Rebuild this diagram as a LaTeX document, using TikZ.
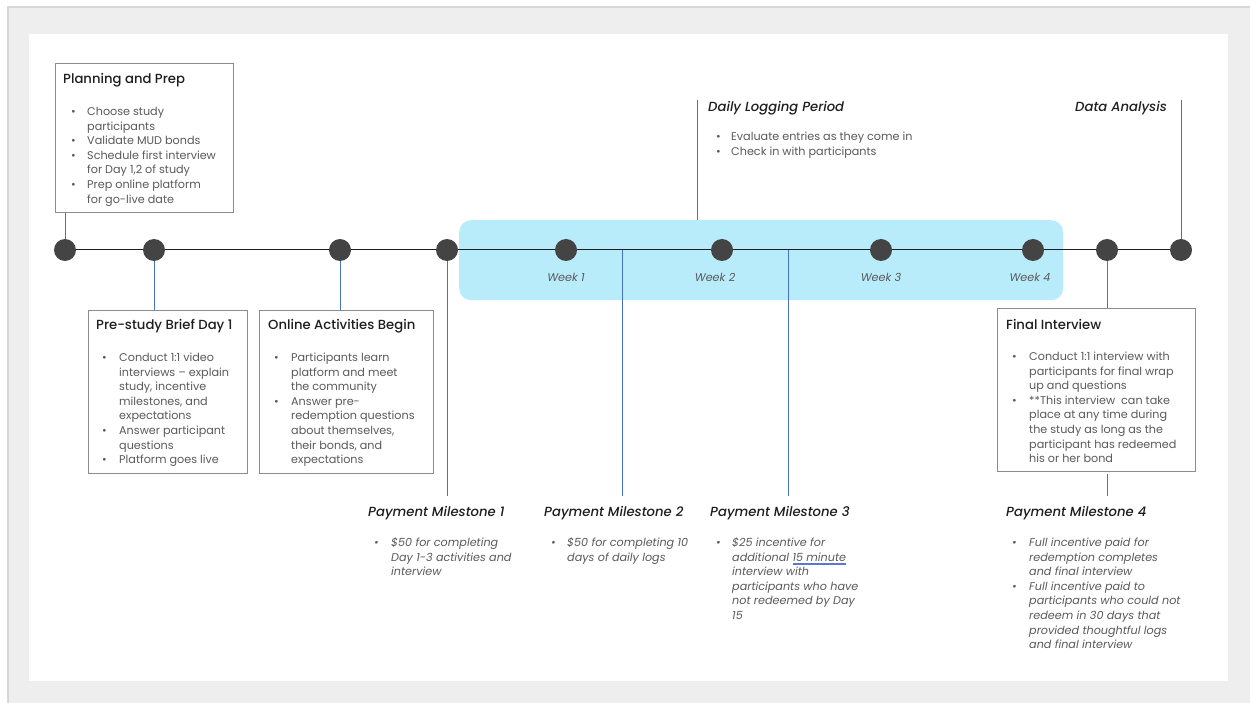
\documentclass[tikz,border=0pt]{standalone}
\usepackage{fontspec}
\setmainfont{Poppins}
\newfontfamily\headfont{Poppins Medium}
\usetikzlibrary{positioning}

\definecolor{pagegray}{RGB}{238, 238, 238}
\definecolor{edgegray}{RGB}{215, 215, 215}
\definecolor{cardgray}{RGB}{140, 140, 140}
\definecolor{ink}{RGB}{30, 30, 30}
\definecolor{softink}{RGB}{90, 90, 90}
\definecolor{dotgray}{RGB}{68, 68, 68}
\definecolor{logblue}{RGB}{184, 236, 251}
\definecolor{linkblue}{RGB}{68, 114, 196}
\definecolor{spell}{RGB}{90, 120, 210}

\newcommand{\dblul}[1]{\setbox0\hbox{#1}%
  \rlap{\color{spell}\rule[-2.2pt]{\wd0}{0.5pt}}%
  \rlap{\color{spell}\rule[-3.6pt]{\wd0}{0.5pt}}\box0}

\tikzset{
  card/.style={draw=cardgray, line width=0.8pt, anchor=north west, inner sep=0pt},
  hd/.style={anchor=base west, inner sep=0pt, yshift=-1pt, text=ink, font=\headfont\fontsize{13.2}{15}\selectfont},
  ihd/.style={hd, font=\headfont\fontsize{13.2}{15}\selectfont\itshape},
  items/.style={anchor=north west, inner sep=0pt, yshift=-1pt, text=softink, font=\fontsize{11.2}{14.6}\selectfont},
  iitems/.style={items, font=\fontsize{11.2}{14.6}\selectfont\itshape},
  weeklabel/.style={inner sep=0pt, text=softink, font=\fontsize{11.2}{12}\selectfont\itshape},
  dot/.style={circle, fill=dotgray, minimum size=22pt, inner sep=0pt},
  link/.style={draw=linkblue, line width=0.8pt},
}

\begin{document}
\begin{tikzpicture}[x=1pt, y=-1pt]
  \useasboundingbox (0, 0) rectangle (1250, 703);
  % page and panel
  \fill[pagegray] (8, 7) rectangle (1250, 703);
  \draw[edgegray, line width=1.5pt] (8, 703) -- (8, 7) -- (1250, 7);
  \fill[white] (29, 34) rectangle (1228, 681);

  % logging band
  \node[fill=logblue, rounded corners=12pt, minimum width=604pt, minimum height=80pt,
    anchor=north west, inner sep=0pt] (logband) at (459, 220) {};

  % boxes
  \node[card, minimum width=178pt, minimum height=149pt] (plan) at (55, 63) {};
  \node[hd] (planT) at (63, 83) {Planning and Prep};
  \node[items] (planL) at (71, 104) {\begin{tabular}{@{}p{16pt}@{}l@{}}
    \textbullet & Choose study\\
    & participants\\
    \textbullet & Validate MUD bonds\\
    \textbullet & Schedule first interview\\
    & for Day 1,2 of study\\
    \textbullet & Prep online platform\\
    & for go-live date
  \end{tabular}};

  \node[card, minimum width=159pt, minimum height=163pt] (brief) at (88, 310) {};
  \node[hd] (briefT) at (96, 329) {Pre-study Brief Day 1};
  \node[items] (briefL) at (102, 350) {\begin{tabular}{@{}p{17pt}@{}l@{}}
    \textbullet & Conduct 1:1 video\\
    & interviews -- explain\\
    & study, incentive\\
    & milestones, and\\
    & expectations\\
    \textbullet & Answer participant\\
    & questions\\
    \textbullet & Platform goes live
  \end{tabular}};

  \node[card, minimum width=174pt, minimum height=163pt] (online) at (259, 310) {};
  \node[hd] (onlineT) at (268, 329) {Online Activities Begin};
  \node[items] (onlineL) at (274, 350) {\begin{tabular}{@{}p{17pt}@{}l@{}}
    \textbullet & Participants learn\\
    & platform and meet\\
    & the community\\
    \textbullet & Answer pre-\\
    & redemption questions\\
    & about themselves,\\
    & their bonds, and\\
    & expectations
  \end{tabular}};

  \node[card, minimum width=198pt, minimum height=163pt] (final) at (997, 308) {};
  \node[hd] (finalT) at (1006, 329) {Final Interview};
  \node[items] (finalL) at (1012, 349) {\begin{tabular}{@{}p{17pt}@{}l@{}}
    \textbullet & Conduct 1:1 interview with\\
    & participants for final wrap\\
    & up and questions\\
    \textbullet & **This interview\ \ can take\\
    & place at any time during\\
    & the study as long as the\\
    & participant has redeemed\\
    & his or her bond
  \end{tabular}};

  % logging and analysis
  \node[ihd] (logT) at (708, 111) {Daily Logging Period};
  \node[items] (logL) at (716, 129) {\begin{tabular}{@{}p{15pt}@{}l@{}}
    \textbullet & Evaluate entries as they come in\\
    \textbullet & Check in with participants
  \end{tabular}};
  \node[ihd, anchor=base east] (dataT) at (1167, 111) {Data Analysis};

  % payment milestones
  \node[ihd] (pm1) at (368, 515) {Payment Milestone 1};
  \node[iitems] (pm1L) at (374, 535) {\begin{tabular}{@{}p{17pt}@{}l@{}}
    \textbullet & \$50 for completing\\
    & Day 1-3 activities and\\
    & interview
  \end{tabular}};
  \node[ihd] (pm2) at (544, 515) {Payment Milestone 2};
  \node[iitems] (pm2L) at (551, 535) {\begin{tabular}{@{}p{16pt}@{}l@{}}
    \textbullet & \$50 for completing 10\\
    & days of daily logs
  \end{tabular}};
  \node[ihd] (pm3) at (710, 515) {Payment Milestone 3};
  \node[iitems] (pm3L) at (716, 535) {\begin{tabular}{@{}p{16pt}@{}l@{}}
    \textbullet & \$25 incentive for\\
    & additional \dblul{15 minute}\\
    & interview with\\
    & participants who have\\
    & not redeemed by Day\\
    & 15
  \end{tabular}};
  \node[ihd] (pm4) at (1006, 515) {Payment Milestone 4};
  \node[iitems] (pm4L) at (1012, 535) {\begin{tabular}{@{}p{17pt}@{}l@{}}
    \textbullet & Full incentive paid for\\
    & redemption completes\\
    & and final interview\\
    \textbullet & Full incentive paid to\\
    & participants who could not\\
    & redeem in 30 days that\\
    & provided thoughtful logs\\
    & and final interview
  \end{tabular}};

  % week labels
  \foreach \x/\n in {566/1, 715/2, 881/3, 1030/4}
    \node[weeklabel] (week\n) at (\x, 277) {Week \n};

  % timeline
  \foreach \x [count=\i] in {65, 154, 340, 447, 566, 722, 881, 1033, 1107, 1181}
    \coordinate (t\i) at (\x, 250);
  \coordinate (m2) at (622, 250);
  \coordinate (m3) at (788, 250);
  \coordinate (logTop) at (697, 100);
  \coordinate (dataTop) at (1181, 100);
  \draw[ink, line width=1pt] (t1) -- (t10);

  \draw[link] (t1) -- (t1 |- plan.south);
  \draw[link] (t2) -- (t2 |- brief.north);
  \draw[link] (t3) -- (t3 |- online.north);
  \draw[link, shorten >=10pt] (t4) -- (t4 |- pm1.north);
  \draw[link, shorten >=10pt] (m2) -- (m2 |- pm2.north);
  \draw[link, shorten >=10pt] (m3) -- (m3 |- pm3.north);
  \draw[link] (logTop) -- (logTop |- logband.north);
  \draw[link] (dataTop) -- (t10);
  \draw[link] (t9) -- (t9 |- final.north);
  \draw[link, shorten <=2pt, shorten >=10pt] (t9 |- final.south) -- (t9 |- pm4.north);

  \foreach \i in {1, ..., 10}
    \node[dot] (d\i) at (t\i) {};
\end{tikzpicture}
\end{document}
